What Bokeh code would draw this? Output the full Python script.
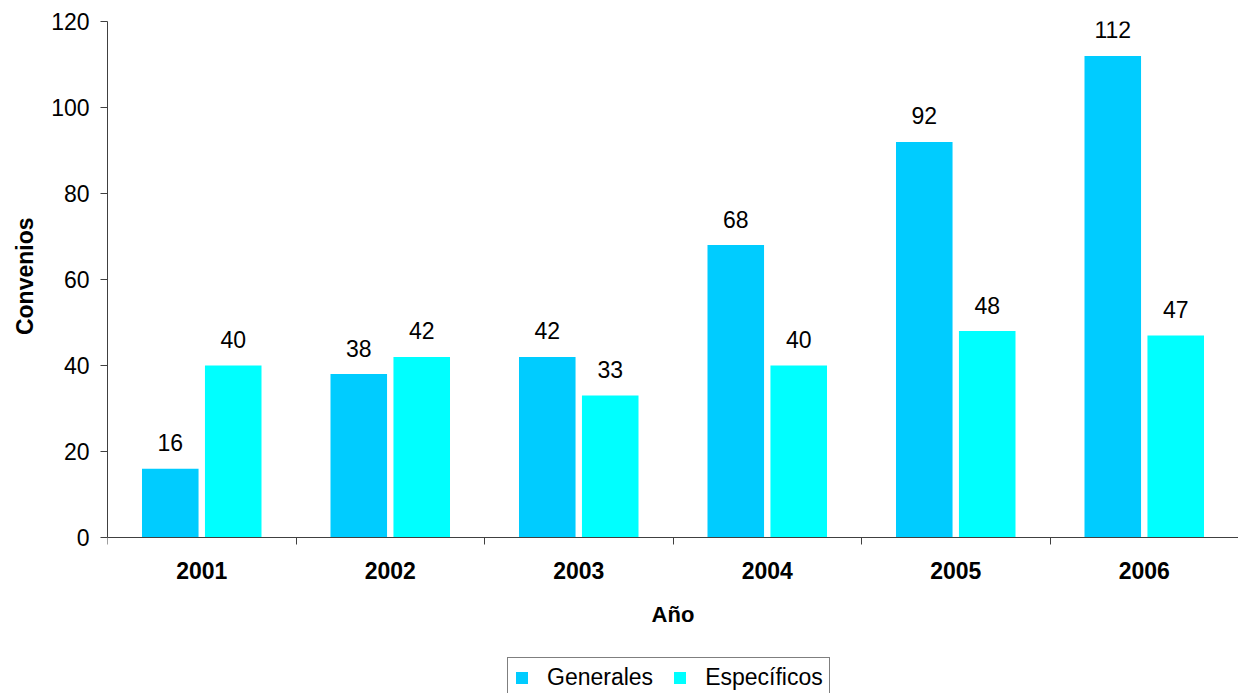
from bokeh.plotting import figure
from bokeh.models import ColumnDataSource, FixedTicker, Legend, LegendItem, Range1d, Title
from bokeh.transform import dodge
from bokeh.core.properties import value
from bokeh.embed import file_html
from bokeh.resources import INLINE

years = ["2001", "2002", "2003", "2004", "2005", "2006"]
generales = [16, 38, 42, 68, 92, 112]
especificos = [40, 42, 33, 40, 48, 47]
y_ticks = [0, 20, 40, 60, 80, 100, 120]

FONT = "Liberation Sans"
AXIS_COLOR = "#404040"
FS = "23px"

pos = [i + 0.5 for i in range(len(years))]
src = ColumnDataSource(dict(
    pos=pos,
    gen=generales,
    esp=especificos,
    gen_lbl=[str(v) for v in generales],
    esp_lbl=[str(v) for v in especificos],
))

# frame spans down to the page bottom so the legend (below the axis) is not clipped;
# the x axis is pinned at y = 0
p = figure(width=1238, height=693, output_backend="svg", toolbar_location=None,
           x_range=Range1d(0, len(years)), y_range=Range1d(-36.28, 120),
           min_border_left=107, min_border_right=0, min_border_top=21, min_border_bottom=0)
p.outline_line_color = None
p.xgrid.grid_line_color = None
p.ygrid.grid_line_color = None

r1 = p.vbar(x=dodge("pos", -0.167, range=p.x_range), top="gen", width=0.30, source=src,
            fill_color="#00CCFF", line_color=None)
r2 = p.vbar(x=dodge("pos", 0.167, range=p.x_range), top="esp", width=0.30, source=src,
            fill_color="#00FFFF", line_color=None)

p.text(x=dodge("pos", -0.167, range=p.x_range), y="gen", text="gen_lbl", source=src,
       text_align="center", text_baseline="alphabetic", y_offset=-26,
       text_font=value(FONT), text_font_size=FS, text_color="black")
p.text(x=dodge("pos", 0.167, range=p.x_range), y="esp", text="esp_lbl", source=src,
       text_align="center", text_baseline="alphabetic", y_offset=-26,
       text_font=value(FONT), text_font_size=FS, text_color="black")

# x axis: labels at category centers, tick marks at category boundaries
xa = p.xaxis[0]
xa.fixed_location = 0
xa.ticker = FixedTicker(ticks=pos, minor_ticks=list(range(len(years) + 1)))
xa.major_label_overrides = {p_: y for p_, y in zip(pos, years)}
xa.major_tick_line_color = None
xa.major_tick_out = 0
xa.major_tick_in = 0
xa.minor_tick_line_color = AXIS_COLOR
xa.minor_tick_out = 7
xa.minor_tick_in = 0
xa.axis_line_color = AXIS_COLOR
xa.major_label_text_font = FONT
xa.major_label_text_font_size = FS
xa.major_label_text_font_style = "bold"
xa.major_label_text_color = "black"
xa.major_label_standoff = 18
xa.axis_label = "Año"
xa.axis_label_text_font = FONT
xa.axis_label_text_font_size = "22px"
xa.axis_label_text_font_style = "bold"
xa.axis_label_text_color = "black"
xa.axis_label_standoff = 19

ya = p.yaxis[0]
ya.ticker = FixedTicker(ticks=y_ticks)
ya.bounds = (0, 120)
ya.minor_tick_line_color = None
ya.major_tick_out = 7
ya.major_tick_in = 0
ya.major_tick_line_color = AXIS_COLOR
ya.axis_line_color = AXIS_COLOR
ya.major_label_text_font = FONT
ya.major_label_text_font_size = FS
ya.major_label_text_color = "black"
ya.major_label_standoff = 11

# y axis title, centred on the 0-120 span of the axis
ytitle = Title(text="Convenios", align="right", offset=196, vertical_align="middle",
               standoff=20, text_font=FONT, text_font_size=FS, text_font_style="bold",
               text_color="black")
p.add_layout(ytitle, "left")

legend = Legend(items=[LegendItem(label="Generales", renderers=[r1]),
                       LegendItem(label="Específicos", renderers=[r2])],
                orientation="horizontal", location=(400, -5))
legend.border_line_color = "black"
legend.border_line_width = 1
legend.background_fill_color = "white"
legend.label_text_font = FONT
legend.label_text_font_size = FS
legend.label_text_color = "black"
legend.glyph_width = 15
legend.glyph_height = 15
legend.label_standoff = 18
legend.spacing = 19
legend.padding = 6
legend.margin = 0
p.add_layout(legend)

open("out.html", "w").write(file_html(p, INLINE))
